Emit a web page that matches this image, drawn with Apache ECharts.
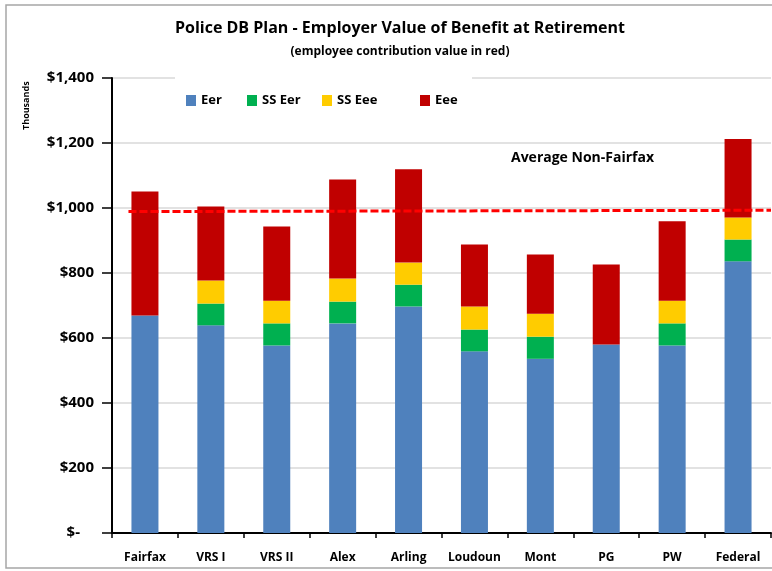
<!DOCTYPE html>
<html><head><meta charset="utf-8">
<script src="https://cdn.jsdelivr.net/npm/echarts@6/dist/echarts.min.js"></script>
<style>html,body{margin:0;padding:0;background:#fff}#c{width:772px;height:571px}</style>
</head><body><div id="c"></div>
<script>
var categories = ['Fairfax','VRS I','VRS II','Alex','Arling','Loudoun','Mont','PG','PW','Federal'];
var eer   = [669, 639, 577, 645, 697, 559, 536, 580, 577, 836];
var ssEer = [0, 67, 68, 67, 67, 67, 68, 0, 68, 67];
var ssEee = [0, 71, 70, 71, 68, 71, 71, 0, 70, 68];
var eee   = [382, 228, 228, 305, 287, 191, 182, 246, 244, 241];
var avgNonFairfax = [[0.25, 989], [10, 993]];
var seriesNames = ['Eer','SS Eer','SS Eee','Eee'];

var FONT = 'Open Sans';
var chart = echarts.init(document.getElementById('c'));
function bar(name, data, color){
  return {name:name, type:'bar', stack:'s', data:data, barWidth:27,
          itemStyle:{color:color}, emphasis:{disabled:true}};
}
var legendX = [186, 247, 322, 420];
var legends = seriesNames.map(function(n, i){
  return {left:legendX[i], top:94, padding:0, itemWidth:10, itemHeight:11, itemGap:0, icon:'rect',
          textStyle:{fontSize:13, fontWeight:'bold', color:'#000', fontFamily:FONT}, data:[n]};
});
chart.setOption({
  animation:false,
  textStyle:{fontFamily:FONT},
  title:[{text:'Police DB Plan - Employer Value of Benefit at Retirement', left:395, textAlign:'center', top:15,
          textStyle:{fontSize:16, fontWeight:'bold', color:'#000', fontFamily:FONT}},
         {text:'(employee contribution value in red)', left:395, textAlign:'center', top:41,
          textStyle:{fontSize:12, fontWeight:'bold', color:'#000', fontFamily:FONT}}],
  legend:legends,
  grid:{left:112, right:1, top:78, bottom:38},
  xAxis:[{type:'category', data:categories, boundaryGap:true,
          axisLine:{lineStyle:{color:'#000', width:2}},
          axisTick:{show:true, length:5, interval:0, lineStyle:{color:'#000', width:1.5}},
          axisLabel:{interval:0, fontSize:12, fontWeight:'bold', color:'#000', margin:19, fontFamily:FONT}},
         {type:'value', min:0, max:10, show:false}],
  yAxis:{type:'value', min:0, max:1400, interval:200,
         axisLine:{show:true, lineStyle:{color:'#000', width:2}},
         axisTick:{show:true, inside:false, length:10, lineStyle:{color:'#000', width:1.5}},
         splitLine:{lineStyle:{color:'#d9d9d9', width:1.5}},
         axisLabel:{margin:18, fontSize:15, fontWeight:'bold', color:'#000', fontFamily:FONT,
           formatter:function(v){ return v===0 ? '{z|$-}' : '$' + v.toLocaleString('en-US'); },
           rich:{z:{fontSize:15, fontWeight:'bold', color:'#000', fontFamily:FONT, padding:[0,14,0,0]}}}},
  series:[
    bar('Eer', eer, '#4f81bd'),
    bar('SS Eer', ssEer, '#00b050'),
    bar('SS Eee', ssEee, '#ffcc00'),
    bar('Eee', eee, '#c00000'),
    {name:'Average Non-Fairfax', type:'line', xAxisIndex:1, data:avgNonFairfax, symbol:'none',
     lineStyle:{color:'#ff0000', width:3, type:[8,3]}, z:5, silent:true}
  ],
  graphic:[
    {type:'rect', shape:{x:6, y:5, width:800, height:563}, style:{fill:'none', stroke:'#a6a6a6', lineWidth:1.5}, silent:true},
    {type:'rect', z:3, shape:{x:175, y:70, width:297, height:50}, style:{fill:'#fff'}, silent:true},
    {type:'text', x:511, y:151, style:{text:'Average Non-Fairfax', font:'bold 14px "'+FONT+'"', fill:'#000'}},
    {type:'text', x:22, y:130, rotation:Math.PI/2, style:{text:'Thousands', font:'bold 9px "'+FONT+'"', fill:'#000'}}
  ]
});
</script></body></html>
